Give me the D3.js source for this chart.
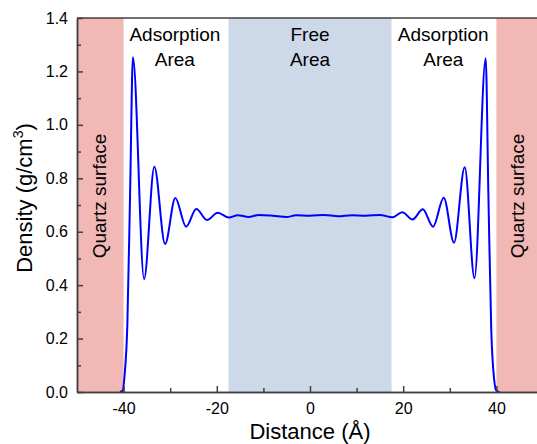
<!DOCTYPE html>
<html>
<head>
<meta charset="utf-8">
<script src="https://cdn.jsdelivr.net/npm/d3@7"></script>
<style>
  body { margin: 0; background: #fff; }
  text { font-family: Arial, "Liberation Sans", sans-serif; fill: #000; }
</style>
</head>
<body>
<div id="chart"></div>
<script>
// Density profile (distance in Å, density in g/cm3)
var distance = [-40.8, -40.2, -39.8, -39.2, -38.6, -38.0, -35.6, -33.4, -31.1, -28.9, -26.6, -24.4, -22.1, -19.8, -17.4,
    -15.5, -13.2, -11.0, -8.0, -5.0, -3.0, 0.0, 3.0, 6.0, 9.0, 12.0, 15.0,
    17.7, 19.8, 22.0, 24.2, 26.4, 28.7, 30.9, 33.2, 35.3, 37.7, 38.3, 38.9, 39.5, 40.0, 40.7];
var density = [0, 0.005, 0.06, 0.25, 0.75, 1.253, 0.423, 0.843, 0.554, 0.726, 0.619, 0.685, 0.644, 0.671, 0.653,
    0.662, 0.655, 0.663, 0.660, 0.655, 0.662, 0.660, 0.663, 0.658, 0.662, 0.660, 0.663,
    0.654, 0.673, 0.646, 0.684, 0.619, 0.727, 0.559, 0.841, 0.426, 1.249, 0.72, 0.23, 0.05, 0.005, 0];

// Shaded regions
var regionNames = ["quartzLeft", "free", "quartzRight"];
var regionStart = [-50, -17.5, 40];
var regionEnd = [-40, 17.5, 50];

var xMajorTicks = [-40, -20, 0, 20, 40];
var xMinorTicks = [-30, -10, 10, 30];
var yMajorTicks = [0, 0.2, 0.4, 0.6, 0.8, 1.0, 1.2, 1.4];
var yMinorTicks = [0.1, 0.3, 0.5, 0.7, 0.9, 1.1, 1.3];

var svgWidth = 537;
var svgHeight = 444;

var margin = { top: 18, right: -6, bottom: 52, left: 77 };
var width = svgWidth - margin.left - margin.right;
var height = svgHeight - margin.top - margin.bottom;

var svg = d3.select("#chart")
    .append("svg")
    .attr("width", svgWidth)
    .attr("height", svgHeight);

var chartGroup = svg.append("g")
    .attr("transform", `translate(${margin.left}, ${margin.top})`);

var xScale = d3.scaleLinear().domain([-50, 50]).range([0, width]);
var yScale = d3.scaleLinear().domain([0, 1.4]).range([height, 0]);

// Background bands
var regionColor = { quartzLeft: "#f2b8b5", free: "#cdd9e9", quartzRight: "#f2b8b5" };
chartGroup.selectAll("rect.band")
    .data(regionNames)
    .enter()
    .append("rect")
    .attr("class", "band")
    .attr("x", (d, i) => xScale(regionStart[i]))
    .attr("width", (d, i) => xScale(regionEnd[i]) - xScale(regionStart[i]))
    .attr("y", 0)
    .attr("height", height)
    .attr("fill", d => regionColor[d]);

// Density curve
var points = distance.map((d, i) => [d, density[i]]);
var line = d3.line()
    .x(d => xScale(d[0]))
    .y(d => yScale(d[1]))
    .curve(d3.curveMonotoneX);

chartGroup.append("path")
    .datum(points)
    .attr("d", line)
    .attr("fill", "none")
    .attr("stroke", "#0000ff")
    .attr("stroke-width", 2);

// Axes (ticks pointing inward)
var axisColor = "#404040";

var xAxis = chartGroup.append("g")
    .attr("transform", `translate(0, ${height})`)
    .call(d3.axisBottom(xScale).tickValues(xMajorTicks).tickSize(-6).tickSizeOuter(0).tickPadding(11)
        .tickFormat(d => String(d)));
var xMinor = chartGroup.append("g")
    .attr("transform", `translate(0, ${height})`)
    .call(d3.axisBottom(xScale).tickValues(xMinorTicks).tickSize(-4).tickSizeOuter(0).tickFormat(""));

var yAxis = chartGroup.append("g")
    .call(d3.axisLeft(yScale).tickValues(yMajorTicks).tickSize(-6).tickSizeOuter(0).tickPadding(9)
        .tickFormat(d => d.toFixed(1)));
var yMinor = chartGroup.append("g")
    .call(d3.axisLeft(yScale).tickValues(yMinorTicks).tickSize(-4).tickSizeOuter(0).tickFormat(""));

[xAxis, xMinor, yAxis, yMinor].forEach(function(g) {
    g.selectAll("path, line").attr("stroke", axisColor).attr("stroke-width", 1.5);
    g.selectAll("text").attr("font-size", "16px").attr("fill", "#000")
        .attr("font-family", "Arial, 'Liberation Sans', sans-serif");
});

// Top border
chartGroup.append("line")
    .attr("x1", 0).attr("x2", width)
    .attr("y1", 0).attr("y2", 0)
    .attr("stroke", axisColor)
    .attr("stroke-width", 1.5);

// Axis titles
chartGroup.append("text")
    .attr("x", xScale(0))
    .attr("y", height + 47)
    .attr("text-anchor", "middle")
    .attr("font-size", "22px")
    .text("Distance (Å)");

var yTitle = svg.append("text")
    .attr("transform", "translate(32, 198) rotate(-90)")
    .attr("text-anchor", "middle")
    .attr("font-size", "22px");
yTitle.append("tspan").text("Density (g/cm");
yTitle.append("tspan").attr("font-size", "14px").attr("dy", -9).text("3");
yTitle.append("tspan").attr("dy", 9).text(")");

// Region labels
var labelGroup = chartGroup.append("g").attr("font-size", "19px");
function twoLines(xVal, top, bottom) {
    var t = labelGroup.append("text").attr("text-anchor", "middle");
    t.append("tspan").attr("x", xScale(xVal)).attr("y", 23).text(top);
    t.append("tspan").attr("x", xScale(xVal)).attr("y", 48).text(bottom);
}
twoLines(-29, "Adsorption", "Area");
twoLines(0, "Free", "Area");
twoLines(28.6, "Adsorption", "Area");

[-45.3, 44.4].forEach(function(xVal) {
    labelGroup.append("text")
        .attr("transform", `translate(${xScale(xVal) + 7}, ${196 - margin.top}) rotate(-90)`)
        .attr("text-anchor", "middle")
        .text("Quartz surface");
});
</script>
</body>
</html>
